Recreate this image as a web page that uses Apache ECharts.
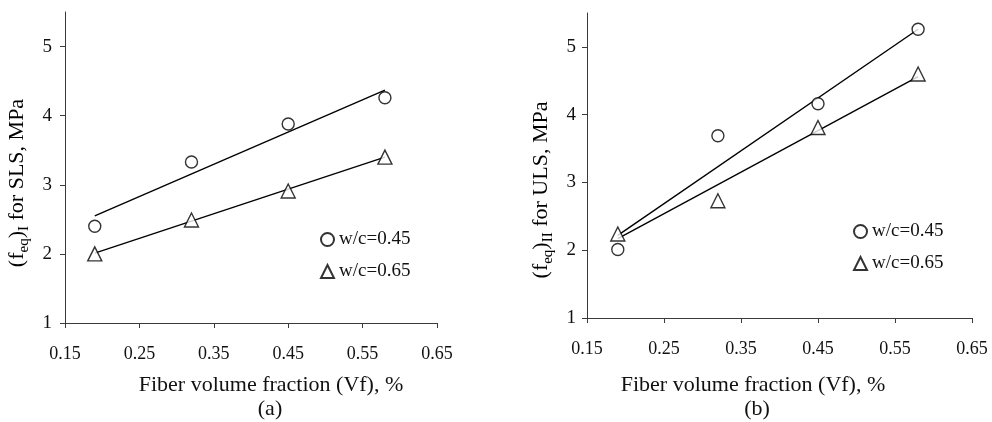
<!DOCTYPE html>
<html>
<head>
<meta charset="utf-8">
<script src="https://cdn.jsdelivr.net/npm/echarts@6/dist/echarts.min.js"></script>
<style>
  html, body { margin: 0; padding: 0; background: #fff; }
  #chart { width: 992px; height: 422px; }
</style>
</head>
<body>
<div id="chart"></div>
<script>
// fiber volume fractions (Vf, %)
const vf = [0.19, 0.32, 0.45, 0.58];
const xTicks = [0.15, 0.25, 0.35, 0.45, 0.55, 0.65];
const yTicks = [1, 2, 3, 4, 5];

// (a) SLS
const slsWc045 = [2.40, 3.33, 3.88, 4.26];
const slsWc065 = [2.00, 2.49, 2.91, 3.40];
// (b) ULS
const ulsWc045 = [2.01, 3.69, 4.16, 5.26];
const ulsWc065 = [2.24, 2.73, 3.81, 4.60];

// trendline ends read at Vf = 0.19 and 0.58
const trendX = [0.19, 0.58];
const slsFit045 = [2.55, 4.37];
const slsFit065 = [2.01, 3.40];
const ulsFit045 = [2.22, 5.26];
const ulsFit065 = [2.17, 4.56];

const names = ['w/c=0.45', 'w/c=0.65'];
const serif = 'Liberation Serif, Times New Roman, serif';

const pairs = (xs, ys) => xs.map((x, i) => [x, ys[i]]);

function xAxisOf(gridIndex) {
  return {
    type: 'value', gridIndex, min: 0.15, max: 0.65,
    splitLine: { show: false },
    axisLine: { lineStyle: { color: '#3a3a3a', width: 1 } },
    axisTick: { show: true, length: 5, customValues: xTicks, lineStyle: { color: '#3a3a3a' } },
    axisLabel: {
      customValues: xTicks, margin: 22, color: '#111',
      fontFamily: serif, fontSize: 18,
      formatter: v => v.toFixed(2)
    }
  };
}

function yAxisOf(gridIndex, margin) {
  return {
    type: 'value', gridIndex, min: 1, max: 5.5,
    splitLine: { show: false },
    axisLine: { show: true, lineStyle: { color: '#3a3a3a', width: 1 } },
    axisTick: { show: true, length: 5, customValues: yTicks, lineStyle: { color: '#3a3a3a' } },
    axisLabel: {
      customValues: yTicks, margin, color: '#111',
      fontFamily: serif, fontSize: 19,
      formatter: v => String(v)
    }
  };
}

function scatter(name, idx, data, symbol, size) {
  return {
    name, type: 'scatter', xAxisIndex: idx, yAxisIndex: idx,
    data, symbol, symbolSize: size,
    itemStyle: { color: '#fff', borderColor: '#000', borderWidth: 1.4 },
    z: 3
  };
}

function trend(idx, ys) {
  return {
    type: 'line', xAxisIndex: idx, yAxisIndex: idx,
    data: pairs(trendX, ys), symbol: 'none', silent: true,
    lineStyle: { color: '#000', width: 1.4 }, z: 2
  };
}

function legendAt(left, top) {
  return {
    data: names, orient: 'vertical', left, top,
    itemWidth: 13, itemHeight: 13, itemGap: 13, selectedMode: false,
    textStyle: { fontFamily: serif, fontSize: 19, color: '#111' }
  };
}

// normal text sits at the top of the line, subscripts at its bottom
const rich = {
  a: { fontFamily: serif, fontSize: 22, lineHeight: 26, verticalAlign: 'top', color: '#111' },
  s: { fontFamily: serif, fontSize: 15, lineHeight: 26, verticalAlign: 'bottom', color: '#111' }
};

function yTitle(x, y, label) {
  return {
    type: 'text', x, y, rotation: Math.PI / 2,
    style: {
      text: '{a|(f}{s|eq}{a|)}{s|' + label + '}{a| for ' + (label === 'I' ? 'SLS' : 'ULS') + ', MPa}',
      rich, align: 'center', verticalAlign: 'middle'
    }
  };
}

function caption(x, y, text) {
  return {
    type: 'text', x, y,
    style: { text, fontFamily: serif, fontSize: 22, fill: '#111', align: 'center', verticalAlign: 'middle' }
  };
}

const chart = echarts.init(document.getElementById('chart'));
chart.setOption({
  backgroundColor: '#fff',
  animation: false,
  grid: [
    { left: 65, top: 12, width: 372, height: 311 },
    { left: 587, top: 13, width: 385, height: 305 }
  ],
  xAxis: [xAxisOf(0), xAxisOf(1)],
  yAxis: [yAxisOf(0, 13), yAxisOf(1, 11)],
  legend: [legendAt(315, 225), legendAt(848, 217)],
  graphic: [
    yTitle(19, 183, 'I'),
    yTitle(543, 190, 'II'),
    caption(271, 385, 'Fiber volume fraction (Vf), %'),
    caption(270, 409, '(a)'),
    caption(753, 385, 'Fiber volume fraction (Vf), %'),
    caption(757, 409, '(b)')
  ],
  series: [
    trend(0, slsFit045),
    trend(0, slsFit065),
    scatter(names[0], 0, pairs(vf, slsWc045), 'circle', 12),
    scatter(names[1], 0, pairs(vf, slsWc065), 'triangle', 14),
    trend(1, ulsFit045),
    trend(1, ulsFit065),
    scatter(names[0], 1, pairs(vf, ulsWc045), 'circle', 12),
    scatter(names[1], 1, pairs(vf, ulsWc065), 'triangle', 14)
  ]
});
</script>
</body>
</html>
